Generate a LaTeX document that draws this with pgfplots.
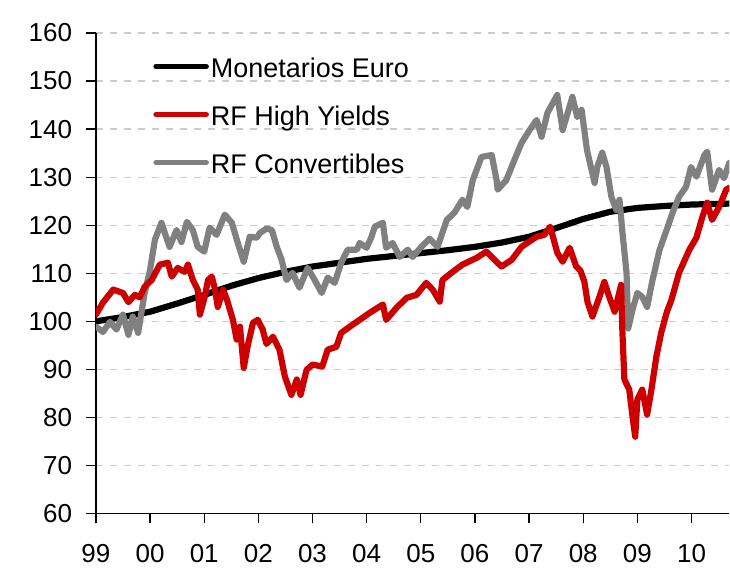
\documentclass[border=0pt]{standalone}
\usepackage{fontspec}
\setmainfont{Liberation Sans}
\usepackage{pgfplots}
\pgfplotsset{compat=1.18}
\definecolor{hyred}{RGB}{204,0,0}
\definecolor{cvgray}{RGB}{128,128,128}

\pgfplotstableread{
t v
0.00 100.0
0.50 100.9
1.00 102.0
1.50 103.7
2.00 105.5
2.50 107.4
3.00 109.0
3.50 110.3
4.00 111.4
4.50 112.2
5.00 113.0
5.50 113.6
6.00 114.2
6.50 114.8
7.00 115.5
7.50 116.4
8.00 117.6
8.50 119.4
9.00 121.3
9.50 122.8
10.00 123.6
10.50 124.0
11.00 124.3
11.70 124.5
}\money

\pgfplotstableread{
t v
0.00 101.4
0.13 103.9
0.32 106.6
0.50 105.9
0.60 104.0
0.72 105.5
0.81 105.0
0.90 107.2
1.03 108.6
1.18 111.8
1.33 112.2
1.40 109.3
1.51 111.1
1.64 110.3
1.70 111.8
1.79 108.6
1.88 106.6
1.92 101.4
2.01 105.1
2.07 108.6
2.14 109.3
2.20 106.6
2.25 103.0
2.35 106.6
2.42 104.5
2.53 100.3
2.60 96.2
2.66 98.9
2.73 90.3
2.80 94.7
2.90 99.7
2.99 100.3
3.08 98.3
3.15 95.3
3.27 96.8
3.39 94.1
3.49 88.5
3.61 84.7
3.71 87.9
3.78 84.7
3.89 89.9
4.00 91.0
4.18 90.6
4.28 94.1
4.44 94.7
4.53 97.6
4.69 98.9
4.87 100.3
5.06 101.8
5.20 102.8
5.30 103.5
5.36 100.3
5.55 102.8
5.74 104.9
5.92 105.5
6.10 108.0
6.22 106.6
6.35 104.1
6.40 108.6
6.59 110.3
6.77 111.8
7.03 113.2
7.21 114.5
7.49 111.4
7.68 112.8
7.86 115.5
8.14 117.6
8.28 118.0
8.39 119.7
8.52 114.3
8.62 112.4
8.75 115.3
8.87 111.4
8.95 110.5
9.02 108.3
9.08 104.0
9.17 101.0
9.30 105.1
9.39 108.2
9.48 105.1
9.58 102.0
9.70 107.6
9.72 98.9
9.76 87.9
9.85 85.8
9.91 80.2
9.96 76.0
10.00 83.7
10.09 85.8
10.18 80.6
10.26 85.8
10.35 92.6
10.44 97.6
10.54 101.8
10.63 104.5
10.77 110.1
10.96 114.9
11.09 117.4
11.20 121.7
11.29 124.7
11.38 121.1
11.51 123.8
11.64 127.4
11.70 127.8
}\highyield

\pgfplotstableread{
t v
0.00 98.9
0.13 97.8
0.26 99.9
0.38 98.3
0.50 101.4
0.60 97.2
0.68 101.0
0.78 97.6
0.84 101.8
0.90 105.9
1.00 110.7
1.09 117.0
1.21 120.5
1.36 115.5
1.49 119.0
1.58 116.5
1.68 120.7
1.79 119.0
1.88 115.5
2.00 114.5
2.10 119.5
2.23 118.0
2.38 122.2
2.51 120.5
2.62 116.3
2.73 112.4
2.84 117.6
2.97 117.4
3.03 118.4
3.15 119.3
3.25 119.0
3.34 115.5
3.43 112.8
3.52 108.6
3.63 110.1
3.76 107.0
3.91 111.1
4.04 108.6
4.17 105.9
4.28 109.1
4.41 108.0
4.53 112.2
4.65 114.9
4.82 114.9
4.87 116.3
5.00 115.3
5.09 117.6
5.15 119.7
5.30 120.5
5.36 115.3
5.48 116.3
5.61 113.4
5.76 114.9
5.85 113.4
6.01 115.5
6.16 117.2
6.31 115.5
6.48 121.1
6.62 122.6
6.77 125.3
6.86 123.8
6.96 129.4
7.12 134.2
7.31 134.6
7.40 129.4
7.42 127.4
7.58 129.4
7.73 133.6
7.86 137.1
8.01 139.8
8.14 141.9
8.23 138.4
8.34 143.4
8.52 147.1
8.62 139.8
8.80 146.7
8.89 142.5
8.97 144.0
9.07 135.6
9.21 128.8
9.26 132.1
9.35 135.1
9.43 132.1
9.52 125.9
9.61 123.2
9.67 125.3
9.72 119.0
9.80 110.1
9.83 98.5
9.91 102.4
10.00 105.9
10.09 105.1
10.18 103.0
10.28 108.6
10.41 114.9
10.54 119.0
10.65 122.6
10.77 125.9
10.90 128.0
10.99 132.1
11.09 130.1
11.24 134.6
11.29 135.3
11.38 127.4
11.51 131.5
11.60 129.8
11.70 133.0
}\convert

\begin{document}
\begin{tikzpicture}
\begin{axis}[
  scale only axis,
  width=317pt, height=240.5pt,
  xmin=0, xmax=11.7, ymin=60, ymax=160,
  axis x line=bottom, axis y line=left,
  axis line style={-, line width=0.6pt, black},
  tick align=outside,
  major tick length=4.75pt,
  tick style={line width=0.6pt, black},
  xtick={0,1,...,11},
  xticklabels={99,00,01,02,03,04,05,06,07,08,09,10},
  ytick={60,70,...,160},
  ymajorgrids,
  major grid style={dash pattern=on 3.5pt off 3.5pt, gray!40, line width=0.6pt},
  ticklabel style={font=\fontsize{13}{15}\selectfont},
  /pgf/number format/assume math mode=true,
  yticklabel style={inner sep=0pt, xshift=-7pt},
  xticklabel style={inner sep=0pt, yshift=-10.5pt},
  legend style={draw=none, fill=none, inner sep=0pt,
    at={(axis description cs:0.09,0.954)}, anchor=north west,
    font=\fontsize{13.5}{16}\selectfont, row sep=9pt, column sep=0pt,
    nodes={inner sep=1pt, text height=10pt, text depth=3pt}},
  legend cell align=left,
  legend image code/.code={\draw[#1, line cap=round] (1.5pt,2pt) -- (26.5pt,2pt);},
]
\addlegendimage{black, line width=2.8pt}
\addlegendentry{Monetarios Euro}
\addlegendimage{hyred, line width=2.8pt}
\addlegendentry{RF High Yields}
\addlegendimage{cvgray, line width=2.8pt}
\addlegendentry{RF Convertibles}

\addplot[forget plot, black, line width=3.1pt, line cap=round, line join=round] table[x=t,y=v] {\money};
\addplot[forget plot, cvgray, line width=3.1pt, line cap=round, line join=round] table[x=t,y=v] {\convert};
\addplot[forget plot, hyred, line width=3.1pt, line cap=round, line join=round] table[x=t,y=v] {\highyield};

\coordinate (bl) at (rel axis cs:0,0);
\coordinate (tr) at (rel axis cs:1,1);
\end{axis}
\path ([xshift=-48pt,yshift=-29.5pt]bl) rectangle ([yshift=16.5pt]tr);
\end{tikzpicture}
\end{document}
